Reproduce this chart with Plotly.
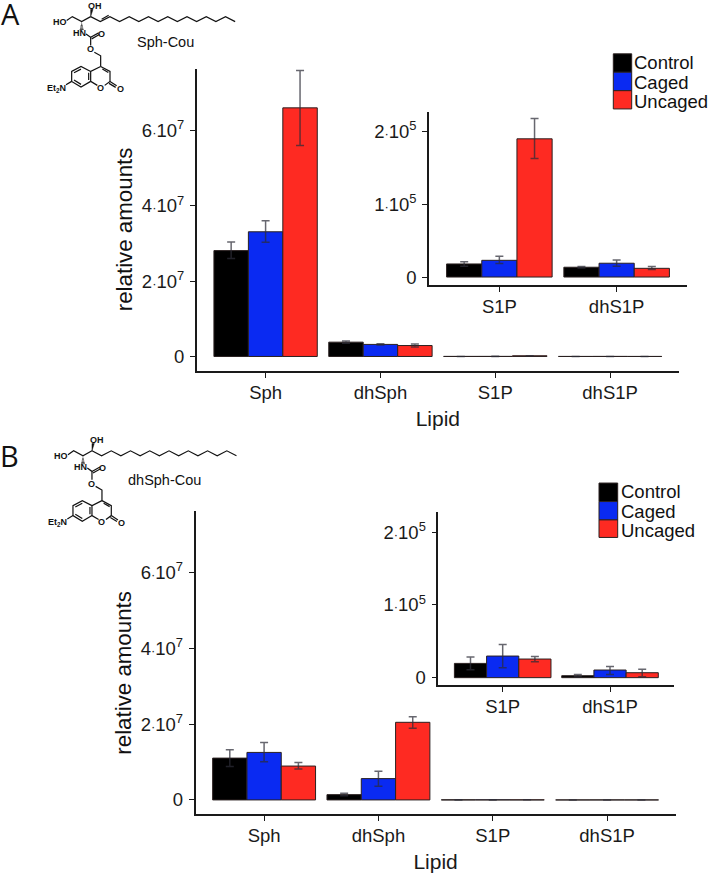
import plotly.graph_objects as go

W, H = 708, 873
FONT = "Liberation Sans"
INK = "#1a1a1a"

groups = ["Control", "Caged", "Uncaged"]
colors = ["#000000", "#0a2af2", "#fe2a22"]
lipids = ["Sph", "dhSph", "S1P", "dhS1P"]
inset_lipids = ["S1P", "dhS1P"]

# Panel A: main plot
a_val = {"Control": [2.81e7, 3.8e6, 1.8e4, 1.35e4],
         "Caged": [3.31e7, 3.2e6, 2.3e4, 1.9e4],
         "Uncaged": [6.6e7, 2.9e6, 1.9e5, 1.2e4]}
a_hi = {"Control": [3.04e7, 4.1e6, 2.1e4, 1.45e4],
        "Caged": [3.6e7, 3.35e6, 2.85e4, 2.35e4],
        "Uncaged": [7.59e7, 3.3e6, 2.18e5, 1.45e4]}
a_lo = {"Control": [2.6e7, 3.5e6, 1.5e4, 1.25e4],
        "Caged": [3.03e7, 3.05e6, 1.85e4, 1.5e4],
        "Uncaged": [5.6e7, 2.5e6, 1.63e5, 1.05e4]}

# Panel B: main plot
b_val = {"Control": [1.105e7, 1.4e6, 1.96e4, 2.7e3],
         "Caged": [1.255e7, 5.63e6, 2.97e4, 1.05e4],
         "Uncaged": [8.95e6, 2.05e7, 2.56e4, 6.8e3]}
b_hi = {"Control": [1.327e7, 1.75e6, 2.83e4, 4.5e3],
        "Caged": [1.52e7, 7.55e6, 4.56e4, 1.55e4],
        "Uncaged": [9.9e6, 2.2e7, 2.92e4, 1.14e4]}
b_lo = {"Control": [8.8e6, 1.1e6, 1.1e4, 1.2e3],
        "Caged": [1.01e7, 3.6e6, 1.37e4, 4.5e3],
        "Uncaged": [8.15e6, 1.895e7, 2.19e4, 1.4e3]}

DOT = '<span style="font-size:13px">·</span>'
main_ticks = [0, 2e7, 4e7, 6e7]
main_ticktext = ["0", f"2{DOT}10<sup>7</sup>", f"4{DOT}10<sup>7</sup>", f"6{DOT}10<sup>7</sup>"]
inset_ticks = [0, 1e5, 2e5]
inset_ticktext = ["0", f"1{DOT}10<sup>5</sup>", f"2{DOT}10<sup>5</sup>"]

fx = lambda p: p / W
fy = lambda p: 1 - p / H

fig = go.Figure()


def add_bars(xa, ya, cats, val, hi, lo, start):
    for g, c in zip(groups, colors):
        v, u, d = val[g][start:], hi[g][start:], lo[g][start:]
        fig.add_trace(go.Bar(
            x=cats, y=v, name=g, xaxis=xa, yaxis=ya, offsetgroup=g,
            marker=dict(color=c, line=dict(color="#2a2020", width=1)),
            error_y=dict(type="data", symmetric=False,
                         array=[a - b for a, b in zip(u, v)],
                         arrayminus=[b - a for a, b in zip(d, v)],
                         color="rgba(45,45,55,0.72)", thickness=1.5, width=4),
            showlegend=False))


add_bars("x", "y", lipids, a_val, a_hi, a_lo, 0)
add_bars("x2", "y2", inset_lipids, a_val, a_hi, a_lo, 2)
add_bars("x3", "y3", lipids, b_val, b_hi, b_lo, 0)
add_bars("x4", "y4", inset_lipids, b_val, b_hi, b_lo, 2)


def axes(n, cats, l, r, t, b, y0, ppu, ticks, ticktext, title=None):
    """Place one axis pair; l/r/t/b are pixels, y0 is the pixel of value 0."""
    s = "" if n == 1 else str(n)
    common = dict(showline=True, linecolor=INK, linewidth=1.5, ticks="outside",
                  ticklen=5, tickwidth=1.3, tickcolor=INK, showgrid=False, zeroline=False,
                  tickfont=dict(family=FONT, size=18.5, color=INK))
    xa = dict(domain=[fx(l), fx(r)], anchor="y" + s, type="category",
              categoryorder="array", categoryarray=cats, tickvals=cats,
              range=[-0.6, len(cats) - 0.4], ticklabelstandoff=-1, **common)
    if title:
        xa["title"] = dict(text=title, font=dict(family=FONT, size=21, color=INK), standoff=9)
    ya = dict(domain=[fy(b), fy(t)], anchor="x" + s, tickvals=ticks, ticktext=ticktext,
              range=[(y0 - b) / ppu, (y0 - t) / ppu], ticklabelstandoff=2, **common)
    fig.update_layout({"xaxis" + s: xa, "yaxis" + s: ya})


axes(1, lipids, 196.7, 679, 69, 372.3, 357.7, 75.6 / 2e7, main_ticks, main_ticktext, "Lipid")
axes(2, inset_lipids, 429, 687, 112, 286, 278, 73 / 1e5, inset_ticks, inset_ticktext)
axes(3, lipids, 195.5, 675.7, 513, 816.7, 802.7, 76 / 2e7, main_ticks, main_ticktext, "Lipid")
axes(4, inset_lipids, 438.3, 674.4, 513.3, 687.3, 680, 73 / 1e5, inset_ticks, inset_ticktext)

shapes, notes = [], []


def text(s, x, y, size, family=FONT, angle=0, anchor="center"):
    notes.append(dict(text=s, x=fx(x), y=fy(y), xref="paper", yref="paper", showarrow=False,
                      xanchor=anchor, yanchor="middle", textangle=angle, borderpad=0,
                      font=dict(family=family, size=size, color="#111111")))


def legend(x0, x1, ys, tx, tys):
    for i, g in enumerate(groups):
        shapes.append(dict(type="rect", xref="paper", yref="paper",
                           x0=fx(x0), x1=fx(x1), y0=fy(ys[i + 1]), y1=fy(ys[i]),
                           fillcolor=colors[i], line=dict(color="#2a2020", width=1)))
        text(g, tx, tys[i], 18.5, anchor="left")


legend(613.3, 631.7, [54, 72.5, 91, 109.3], 633, [62.7, 82.7, 101.7])
legend(599, 617.7, [484.7, 503.3, 521.7, 539.3], 619.5, [493.3, 513.3, 532.3])

text("relative amounts", 124, 230, 22.3, angle=-90)
text("relative amounts", 124, 675, 22.3, angle=-90)
text("A", 10.5, 14, 29, family="Open Sans")
text("B", 9, 457, 29, family="Open Sans")
text("Sph-Cou", 165, 42, 14.5)
text("dhSph-Cou", 164, 481.7, 14.5)


def molecule(dx, dy, double_bond):
    """Structure sketch; coordinates are pixels of the picture."""
    P = lambda x, y: (x / 3 + dx, y / 3 + dy)
    chain = [(272 + 28.9 * i, 50 if i % 2 == 0 else 65) for i in range(16)]
    bonds = [[(200, 62), (217, 50), (245, 65), (272, 50)], chain,
             [(258, 102), (272, 112), (272, 137)],
             [(272, 112), (296, 99)], [(275, 117), (298, 104)],
             [(283, 157), (302, 168), (302, 200)],
             [(302, 200), (330, 215), (330, 245), (314, 257)],
             [(307, 208), (325, 218)],
             [(330, 245), (350, 258)], [(327, 251), (347, 263)],
             [(292, 257), (272, 245), (272, 215), (302, 200)],
             [(272, 215), (243, 200), (215, 215), (215, 245), (243, 262), (272, 245)],
             [(243, 208), (222, 219)], [(222, 241), (243, 254)], [(266, 219), (266, 241)],
             [(215, 245), (198, 255)]]
    if double_bond:
        bonds.append([(305, 58), (326, 46)])
    for b in bonds:
        d = "M" + " L".join(f"{fx(P(*q)[0]):.5f} {fy(P(*q)[1]):.5f}" for q in b)
        shapes.append(dict(type="path", xref="paper", yref="paper", path=d,
                           line=dict(color="#111111", width=1.2)))
    # solid wedge to OH and hashed wedge to HN
    w = [(272, 50), (272, 28), (279, 28)]
    d = "M" + " L".join(f"{fx(P(*q)[0]):.5f} {fy(P(*q)[1]):.5f}" for q in w) + " Z"
    shapes.append(dict(type="path", xref="paper", yref="paper", path=d,
                       fillcolor="#111111", line=dict(color="#111111", width=0.5)))
    for k, hw in zip(range(69, 90, 4), [1, 2, 3, 4, 5, 6]):
        a, b = P(245 - hw, k), P(245 + hw, k)
        shapes.append(dict(type="line", xref="paper", yref="paper",
                           x0=fx(a[0]), x1=fx(b[0]), y0=fy(a[1]), y1=fy(b[1]),
                           line=dict(color="#111111", width=0.8)))
    for s, x, y in [("HO", 180, 67), ("OH", 286, 17), ("HN", 238, 98), ("O", 305, 101),
                    ("O", 272, 149), ("O", 302, 265), ("O", 360, 267),
                    ("Et<sub>2</sub>N", 168, 267)]:
        q = P(x, y)
        text("<b>" + s + "</b>", q[0], q[1], 9)


molecule(0, 0, True)
molecule(1.3, 435.7, False)

fig.update_layout(width=W, height=H, margin=dict(l=0, r=0, t=0, b=0),
                  paper_bgcolor="white", plot_bgcolor="rgba(0,0,0,0)",
                  barmode="group", bargap=0.1, bargroupgap=0,
                  showlegend=False, shapes=shapes, annotations=notes,
                  font=dict(family=FONT))

fig.write_html("out.html", config=dict(displayModeBar=False),
               post_script="document.body.style.margin='0';document.body.style.overflow='hidden';")
